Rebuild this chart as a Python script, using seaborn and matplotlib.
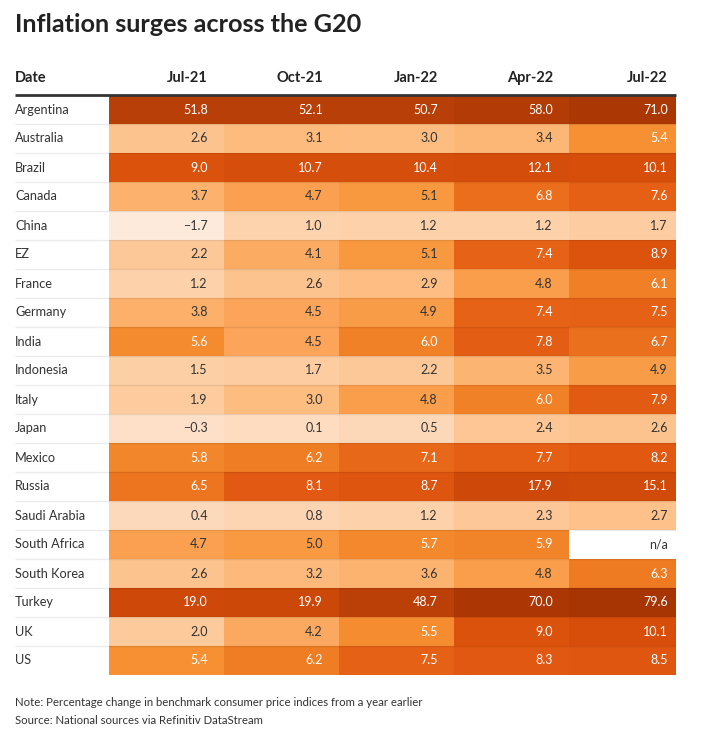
import numpy as np
import pandas as pd
import matplotlib
matplotlib.use("Agg")
import matplotlib.pyplot as plt
from matplotlib.colors import LinearSegmentedColormap
import seaborn as sns

# ================= DATOS =================
PAISES = ["Argentina", "Australia", "Brazil", "Canada", "China", "EZ", "France",
          "Germany", "India", "Indonesia", "Italy", "Japan", "Mexico", "Russia",
          "Saudi Arabia", "South Africa", "South Korea", "Turkey", "UK", "US"]
FECHAS = ["Jul-21", "Oct-21", "Jan-22", "Apr-22", "Jul-22"]

jul21 = [51.8, 2.6, 9.0, 3.7, -1.7, 2.2, 1.2, 3.8, 5.6, 1.5, 1.9, -0.3, 5.8, 6.5, 0.4, 4.7, 2.6, 19.0, 2.0, 5.4]
oct21 = [52.1, 3.1, 10.7, 4.7, 1.0, 4.1, 2.6, 4.5, 4.5, 1.7, 3.0, 0.1, 6.2, 8.1, 0.8, 5.0, 3.2, 19.9, 4.2, 6.2]
jan22 = [50.7, 3.0, 10.4, 5.1, 1.2, 5.1, 2.9, 4.9, 6.0, 2.2, 4.8, 0.5, 7.1, 8.7, 1.2, 5.7, 3.6, 48.7, 5.5, 7.5]
apr22 = [58.0, 3.4, 12.1, 6.8, 1.2, 7.4, 4.8, 7.4, 7.8, 3.5, 6.0, 2.4, 7.7, 17.9, 2.3, 5.9, 4.8, 70.0, 9.0, 8.3]
jul22 = [71.0, 5.4, 10.1, 7.6, 1.7, 8.9, 6.1, 7.5, 6.7, 4.9, 7.9, 2.6, 8.2, 15.1, 2.7, np.nan, 6.3, 79.6, 10.1, 8.5]

# escala de color (valor -> color)
ESCALA_VAL = [-1.7, -0.3, 0.5, 1.2, 2.3, 3.0, 3.8, 4.5, 5.0, 5.5, 6.2, 7.0, 8.0, 9.5, 15.0, 20.0, 50.0, 60.0, 80.0]
ESCALA_COL = ["#feeadb", "#fee0c8", "#fdd8b8", "#fdd1a8", "#fdc796", "#fdbc80", "#fcb06a",
              "#fba45a", "#f99a42", "#f58e30", "#ef7d24", "#e9691a", "#e25a12", "#d84f0b",
              "#d04a0a", "#cc4809", "#ba4008", "#b13a05", "#a73403"]

UMBRAL_BLANCO = 5.3
FUENTE = "Lato"
TEXTO = "#333333"

# ================= FIGURA =================
sns.set_style("white")
plt.rcParams["font.family"] = [FUENTE, "DejaVu Sans"]

df = pd.DataFrame({"Jul-21": jul21, "Oct-21": oct21, "Jan-22": jan22,
                   "Apr-22": apr22, "Jul-22": jul22}, index=PAISES)[FECHAS]

# posicion en la escala de color
pos = df.apply(lambda c: pd.Series(np.interp(c, ESCALA_VAL, np.linspace(0, 1, len(ESCALA_VAL))), index=c.index))
pos[df.isna()] = np.nan
cmap = LinearSegmentedColormap.from_list("inflacion", list(zip(np.linspace(0, 1, len(ESCALA_COL)), ESCALA_COL)))

etiquetas = df.map(lambda v: "" if pd.isna(v) else f"{v:.1f}".replace("-", "\u2212"))

W, H = 713, 732
fig = plt.figure(figsize=(W / 100, H / 100), dpi=100)
ax = fig.add_axes([15 / W, 1 - 675 / H, (676 - 15) / W, 580 / H])

sns.heatmap(pos, mask=df.isna(), cmap=cmap, vmin=0, vmax=1, annot=etiquetas, fmt="",
            cbar=False, linewidths=0, ax=ax,
            annot_kws={"fontsize": 9, "fontfamily": FUENTE})

COL_W = 115.0
ANCHO_NOMBRE = 94 / COL_W
OFFSET = 0.86
ax.set_xlim(-ANCHO_NOMBRE, 567 / COL_W)
ax.set_ylim(len(PAISES), 0)
ax.set_xticks([])
ax.set_yticks([])
for s in ax.spines.values():
    s.set_visible(False)

# anotaciones alineadas a la derecha
valores = df.values
for t in ax.texts:
    x, y = t.get_position()
    i, j = int(y), int(x)
    t.set_ha("right")
    t.set_x(j + OFFSET)
    v = valores[i, j]
    t.set_color("white" if v >= UMBRAL_BLANCO else TEXTO)

# celdas sin dato
for i, p in enumerate(PAISES):
    for j, f in enumerate(FECHAS):
        if pd.isna(valores[i, j]):
            ax.text(j + OFFSET, i + 0.5, "n/a", ha="right", va="center", fontsize=9, color=TEXTO)

# nombres de paises
for i, p in enumerate(PAISES):
    ax.text(-ANCHO_NOMBRE, i + 0.5, p, ha="left", va="center", fontsize=9.2, color=TEXTO)

# separadores de filas
ax.hlines(np.arange(1, len(PAISES)), -ANCHO_NOMBRE, 567 / COL_W, color="black", alpha=0.08, lw=1)
ax.hlines(0, -ANCHO_NOMBRE, 567 / COL_W, color="#333333", lw=2, clip_on=False)

# cabecera
ax.text(-ANCHO_NOMBRE, -0.6, "Date", ha="left", va="center", fontsize=10.5,
        fontweight="bold", color="#222222", clip_on=False)
for j, f in enumerate(FECHAS):
    ax.text(j + OFFSET, -0.6, f, ha="right", va="center", fontsize=10.5,
            fontweight="bold", color="#222222", clip_on=False)

fig.text(15 / W, 1 - 24 / H, "Inflation surges across the G20", ha="left", va="center",
         fontsize=18.2, fontweight="bold", color="#222222")
fig.text(15 / W, 1 - 703 / H, "Note: Percentage change in benchmark consumer price indices from a year earlier",
         ha="left", va="center", fontsize=8.2, color=TEXTO)
fig.text(15 / W, 1 - 720 / H, "Source: National sources via Refinitiv DataStream",
         ha="left", va="center", fontsize=8.2, color=TEXTO)

fig.savefig("out.png", dpi=100, facecolor="white")
